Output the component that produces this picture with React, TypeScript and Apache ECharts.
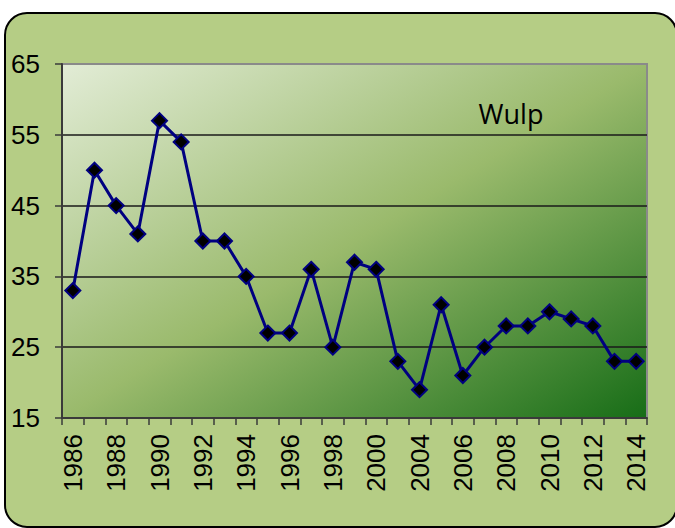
import React, { useEffect, useRef } from "react";
import * as echarts from "echarts";

const years = [
  "1986", "1987", "1988", "1989", "1990", "1991", "1992", "1993", "1994",
  "1995", "1996", "1997", "1998", "1999", "2000", "2002", "2004", "2005",
  "2006", "2007", "2008", "2009", "2010", "2011", "2012", "2013", "2014",
];
const counts = [
  33, 50, 45, 41, 57, 54, 40, 40, 35, 27, 27, 36, 25, 37, 36, 23, 19, 31,
  21, 25, 28, 28, 30, 29, 28, 23, 23,
];
const seriesName = "Wulp";
const yMin = 15;
const yMax = 65;
const yStep = 10;

export default function App() {
  const ref = useRef<HTMLDivElement>(null);
  useEffect(() => {
    if (!ref.current) return;
    const chart = echarts.init(ref.current, null, { renderer: "svg" });
    const font = "Liberation Sans, Arial, sans-serif";
    chart.setOption({
      animation: false,
      graphic: [
        {
          type: "rect",
          z: -10,
          silent: true,
          shape: { x: 5, y: 13, width: 672, height: 514, r: 22 },
          style: { fill: "#b5cd85", stroke: "#000000", lineWidth: 2 },
        },
        {
          type: "text",
          z: 100,
          style: {
            text: seriesName,
            x: 511,
            y: 113,
            align: "center",
            verticalAlign: "middle",
            fontFamily: "Open Sans, sans-serif",
            fontSize: 27,
            fill: "#000000",
          },
        },
      ],
      grid: {
        left: 62,
        top: 64,
        width: 585,
        height: 354,
        show: true,
        borderColor: "#8a8a8a",
        borderWidth: 2,
        backgroundColor: new echarts.graphic.LinearGradient(0, 0, 1, 1, [
          { offset: 0, color: "#e2ecd6" },
          { offset: 0.5, color: "#9aba6c" },
          { offset: 1, color: "#176d17" },
        ]),
      },
      xAxis: {
        type: "category",
        data: years,
        boundaryGap: true,
        axisLine: { show: true, lineStyle: { color: "#3a3a3a", width: 2 } },
        axisTick: {
          show: true,
          interval: 0,
          length: 7,
          inside: false,
          lineStyle: { color: "#3a3a3a", width: 1.5 },
        },
        axisLabel: {
          interval: 1,
          rotate: 90,
          margin: 16,
          color: "#000000",
          fontSize: 26,
          fontFamily: font,
        },
        splitLine: { show: false },
      },
      yAxis: {
        type: "value",
        min: yMin,
        max: yMax,
        interval: yStep,
        axisLine: { show: true, lineStyle: { color: "#3a3a3a", width: 2 } },
        axisTick: {
          show: true,
          length: 7,
          inside: false,
          lineStyle: { color: "#3a3a3a", width: 1.5 },
        },
        axisLabel: {
          margin: 22,
          color: "#000000",
          fontSize: 26,
          fontFamily: font,
        },
        splitLine: {
          show: true,
          showMinLine: false,
          showMaxLine: false,
          lineStyle: { color: "#1a1a1a", width: 1.5 },
        },
      },
      series: [
        {
          name: seriesName,
          type: "line",
          data: counts,
          symbol: "diamond",
          symbolSize: 15,
          showSymbol: true,
          showAllSymbol: true,
          lineStyle: { color: "#000080", width: 3 },
          itemStyle: { color: "#000000", borderColor: "#000080", borderWidth: 2 },
          z: 5,
        },
      ],
    });
    return () => chart.dispose();
  }, []);
  return (
    <div
      ref={ref}
      style={{ position: "absolute", left: 0, top: 0, width: 675, height: 528 }}
    />
  );
}
